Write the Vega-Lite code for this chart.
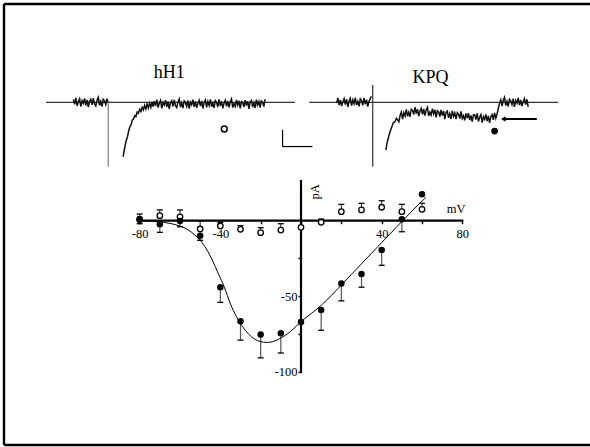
{
  "$schema": "https://vega.github.io/schema/vega-lite/v6.json",
  "width": 586,
  "height": 441,
  "autosize": {"type": "none"},
  "padding": {"left": 4, "top": 4, "right": 0, "bottom": 2},
  "background": "white",
  "view": {"stroke": null},
  "config": {
    "font": "Liberation Serif"
  },
  "datasets": {
    "iv": [
      {"g": "KPQ", "mV": -80, "pA": 0.5, "err": -2},
      {"g": "KPQ", "mV": -70, "pA": -2.4, "err": -7.7},
      {"g": "KPQ", "mV": -60, "pA": -0.2, "err": -4},
      {"g": "KPQ", "mV": -50, "pA": -10, "err": -13},
      {"g": "KPQ", "mV": -40, "pA": -44, "err": -54},
      {"g": "KPQ", "mV": -30, "pA": -66.5, "err": -79},
      {"g": "KPQ", "mV": -20, "pA": -75.3, "err": -90.7},
      {"g": "KPQ", "mV": -10, "pA": -74.4, "err": -87.5},
      {"g": "KPQ", "mV": 0, "pA": -67, "err": null},
      {"g": "KPQ", "mV": 10, "pA": -59, "err": -72.5},
      {"g": "KPQ", "mV": 20, "pA": -41.5, "err": -53},
      {"g": "KPQ", "mV": 30, "pA": -35.3, "err": -44},
      {"g": "KPQ", "mV": 40, "pA": -19.4, "err": -29.5},
      {"g": "KPQ", "mV": 50, "pA": 0.9, "err": -7.3},
      {"g": "KPQ", "mV": 60, "pA": 17.5, "err": null},
      {"g": "hH1", "mV": -80, "pA": 1.1, "err": 4.4},
      {"g": "hH1", "mV": -70, "pA": 3.3, "err": 7.1},
      {"g": "hH1", "mV": -60, "pA": 2.6, "err": 7.1},
      {"g": "hH1", "mV": -50, "pA": -5.5, "err": -0.2},
      {"g": "hH1", "mV": -40, "pA": -3.5, "err": -1.1},
      {"g": "hH1", "mV": -30, "pA": -5.7, "err": -3.3},
      {"g": "hH1", "mV": -20, "pA": -7.9, "err": -4.6},
      {"g": "hH1", "mV": -10, "pA": -6.2, "err": -2},
      {"g": "hH1", "mV": 0, "pA": -4.4, "err": null},
      {"g": "hH1", "mV": 10, "pA": -1.1, "err": 1.1},
      {"g": "hH1", "mV": 20, "pA": 6, "err": 10.8},
      {"g": "hH1", "mV": 30, "pA": 7.1, "err": 11.5},
      {"g": "hH1", "mV": 40, "pA": 8.9, "err": 13.2},
      {"g": "hH1", "mV": 50, "pA": 6, "err": 10.8},
      {"g": "hH1", "mV": 60, "pA": 7.5, "err": 11.5}
    ],
    "fit": [
      {"mV": -80, "pA": 0}, {"mV": -75, "pA": -0.3}, {"mV": -70, "pA": -0.8}, {"mV": -65, "pA": -1.8},
      {"mV": -60, "pA": -3.5}, {"mV": -56, "pA": -6}, {"mV": -53, "pA": -9}, {"mV": -50, "pA": -13},
      {"mV": -47, "pA": -18.5}, {"mV": -44, "pA": -26}, {"mV": -41, "pA": -35}, {"mV": -38, "pA": -44},
      {"mV": -35, "pA": -55}, {"mV": -32, "pA": -63.5}, {"mV": -29, "pA": -70}, {"mV": -26, "pA": -75},
      {"mV": -23, "pA": -78.3}, {"mV": -20, "pA": -80}, {"mV": -17, "pA": -80.5}, {"mV": -14, "pA": -80},
      {"mV": -11, "pA": -78.3}, {"mV": -8, "pA": -76}, {"mV": -5, "pA": -73}, {"mV": -2, "pA": -69.3},
      {"mV": 0, "pA": -66.8}, {"mV": 5, "pA": -61.5}, {"mV": 10, "pA": -56}, {"mV": 15, "pA": -49.5},
      {"mV": 20, "pA": -42.5}, {"mV": 25, "pA": -35.5}, {"mV": 30, "pA": -28.5}, {"mV": 35, "pA": -21.5},
      {"mV": 40, "pA": -14.5}, {"mV": 45, "pA": -7.5}, {"mV": 50, "pA": -0.5}, {"mV": 55, "pA": 6.3},
      {"mV": 60, "pA": 13}, {"mV": 62, "pA": 15.5}
    ],
    "hpre": [
      {"t": 11.0, "v": 0.17}, {"t": 11.5, "v": -0.12}, {"t": 12.0, "v": 0.26}, {"t": 12.5, "v": -0.22},
      {"t": 13.0, "v": 0.04}, {"t": 13.5, "v": 0.21}, {"t": 14.0, "v": -0.26}, {"t": 14.5, "v": 0.10},
      {"t": 15.0, "v": -0.06}, {"t": 15.5, "v": 0.23}, {"t": 16.0, "v": -0.18}, {"t": 16.5, "v": 0.14},
      {"t": 17.0, "v": -0.29}, {"t": 17.5, "v": 0.07}, {"t": 18.0, "v": 0.19}, {"t": 18.5, "v": -0.15},
      {"t": 19.0, "v": 0.25}, {"t": 19.5, "v": -0.10}, {"t": 20.0, "v": -0.22}, {"t": 20.5, "v": 0.12},
      {"t": 21.0, "v": 0.30}, {"t": 21.5, "v": -0.19}, {"t": 22.0, "v": 0.06}, {"t": 22.5, "v": -0.25},
      {"t": 23.0, "v": 0.18}, {"t": 23.5, "v": 0.09}, {"t": 24.0, "v": -0.14}, {"t": 24.5, "v": 0.22},
      {"t": 25.0, "v": -0.05}
    ],
    "hpost": [
      {"t": 31.0, "v": -3.26}, {"t": 31.3, "v": -2.95}, {"t": 31.7, "v": -2.66}, {"t": 32.2, "v": -2.3},
      {"t": 32.7, "v": -2.06}, {"t": 33.2, "v": -1.72}, {"t": 33.7, "v": -1.46}, {"t": 34.2, "v": -1.32},
      {"t": 34.7, "v": -1.05}, {"t": 35.1, "v": -1.02}, {"t": 35.6, "v": -0.8}, {"t": 36.1, "v": -0.86},
      {"t": 36.6, "v": -0.58}, {"t": 37.1, "v": -0.66}, {"t": 37.6, "v": -0.42}, {"t": 38.1, "v": -0.55},
      {"t": 38.6, "v": -0.3}, {"t": 39.1, "v": -0.45}, {"t": 39.6, "v": -0.18}, {"t": 40.1, "v": -0.4},
      {"t": 40.6, "v": -0.1}, {"t": 41.1, "v": -0.34}, {"t": 41.6, "v": -0.05}, {"t": 42.1, "v": -0.3},
      {"t": 42.6, "v": 0.02}, {"t": 43.0, "v": -0.25},
      {"t": 43.5, "v": 0.07}, {"t": 44.0, "v": -0.22}, {"t": 44.5, "v": 0.16}, {"t": 45.0, "v": -0.32},
      {"t": 45.5, "v": -0.06}, {"t": 46.0, "v": 0.11}, {"t": 46.5, "v": -0.36}, {"t": 47.0, "v": 0.0},
      {"t": 47.5, "v": -0.16}, {"t": 48.0, "v": 0.13}, {"t": 48.5, "v": -0.28}, {"t": 49.0, "v": 0.04},
      {"t": 49.5, "v": -0.39}, {"t": 50.0, "v": -0.03}, {"t": 50.5, "v": 0.09}, {"t": 51.0, "v": -0.25},
      {"t": 51.5, "v": 0.15}, {"t": 52.0, "v": -0.2}, {"t": 52.5, "v": -0.32}, {"t": 53.0, "v": 0.02},
      {"t": 53.5, "v": 0.2}, {"t": 54.0, "v": -0.29}, {"t": 54.5, "v": -0.04}, {"t": 55.0, "v": -0.35},
      {"t": 55.5, "v": 0.08}, {"t": 56.0, "v": -0.01}, {"t": 56.5, "v": -0.24}, {"t": 57.0, "v": 0.12},
      {"t": 57.5, "v": -0.38}, {"t": 58.0, "v": 0.01}, {"t": 58.5, "v": -0.15}, {"t": 59.0, "v": 0.16},
      {"t": 59.5, "v": -0.27}, {"t": 60.0, "v": 0.05}, {"t": 60.5, "v": -0.33}, {"t": 61.0, "v": -0.07},
      {"t": 61.5, "v": 0.12}, {"t": 62.0, "v": -0.23}, {"t": 62.5, "v": 0.08}, {"t": 63.0, "v": -0.37},
      {"t": 63.5, "v": -0.02}, {"t": 64.0, "v": 0.14}, {"t": 64.5, "v": -0.3}, {"t": 65.0, "v": 0.04},
      {"t": 65.5, "v": -0.19}, {"t": 66.0, "v": 0.18}, {"t": 66.5, "v": -0.26}, {"t": 67.0, "v": -0.04},
      {"t": 67.5, "v": -0.34}, {"t": 68.0, "v": 0.1}, {"t": 68.5, "v": 0.0}, {"t": 69.0, "v": -0.28},
      {"t": 69.5, "v": 0.17}, {"t": 70.0, "v": -0.21}, {"t": 70.5, "v": 0.06}, {"t": 71.0, "v": -0.36},
      {"t": 71.5, "v": -0.05}, {"t": 72.0, "v": 0.12}, {"t": 72.5, "v": -0.24}, {"t": 73.0, "v": 0.08},
      {"t": 73.5, "v": -0.31}, {"t": 74.0, "v": 0.03}, {"t": 74.5, "v": 0.2}, {"t": 75.0, "v": -0.32},
      {"t": 75.5, "v": -0.08}, {"t": 76.0, "v": -0.25}, {"t": 76.5, "v": 0.14}, {"t": 77.0, "v": -0.17},
      {"t": 77.5, "v": 0.09}, {"t": 78.0, "v": -0.36}, {"t": 78.5, "v": 0.04}, {"t": 79.0, "v": -0.02},
      {"t": 79.5, "v": -0.28}, {"t": 80.0, "v": 0.13}, {"t": 80.5, "v": -0.2}, {"t": 81.0, "v": 0.07},
      {"t": 81.5, "v": -0.4}, {"t": 82.0, "v": 0.02}, {"t": 82.5, "v": 0.11}, {"t": 83.0, "v": -0.29},
      {"t": 83.5, "v": -0.03}, {"t": 84.0, "v": -0.34}, {"t": 84.5, "v": 0.16}, {"t": 85.0, "v": -0.16},
      {"t": 85.5, "v": 0.05}, {"t": 86.0, "v": -0.32}, {"t": 86.5, "v": 0.08}, {"t": 87.0, "v": 0.0},
      {"t": 87.5, "v": -0.26}, {"t": 88.0, "v": 0.19}
    ],
    "kpre": [
      {"t": 11.0, "v": -0.05}, {"t": 11.5, "v": 0.26}, {"t": 12.0, "v": -0.17}, {"t": 12.5, "v": 0.15},
      {"t": 13.0, "v": -0.23}, {"t": 13.5, "v": 0.03}, {"t": 14.0, "v": 0.22}, {"t": 14.5, "v": -0.13},
      {"t": 15.0, "v": 0.18}, {"t": 15.5, "v": -0.27}, {"t": 16.0, "v": 0.08}, {"t": 16.5, "v": 0.24},
      {"t": 17.0, "v": -0.2}, {"t": 17.5, "v": 0.14}, {"t": 18.0, "v": -0.09}, {"t": 18.5, "v": 0.28},
      {"t": 19.0, "v": -0.16}, {"t": 19.5, "v": 0.06}, {"t": 20.0, "v": -0.24}, {"t": 20.5, "v": 0.2},
      {"t": 21.0, "v": 0.1}, {"t": 21.5, "v": -0.18}, {"t": 22.0, "v": 0.27}, {"t": 22.5, "v": -0.11},
      {"t": 23.0, "v": 0.16}, {"t": 23.5, "v": -0.26}, {"t": 24.0, "v": 0.05}, {"t": 24.5, "v": 0.22},
      {"t": 25.0, "v": 0.35}
    ],
    "kpost": [
      {"t": 30.8, "v": -2.86}, {"t": 31.3, "v": -2.4}, {"t": 31.9, "v": -2.06}, {"t": 32.5, "v": -1.75},
      {"t": 33.2, "v": -1.46}, {"t": 33.8, "v": -1.22}, {"t": 34.4, "v": -1.18}, {"t": 35.0, "v": -0.95},
      {"t": 35.5, "v": -1.05},
      {"t": 36.0, "v": -1.17}, {"t": 36.5, "v": -0.79}, {"t": 37.0, "v": -0.59}, {"t": 37.5, "v": -1.0},
      {"t": 38.0, "v": -0.62}, {"t": 38.5, "v": -0.82}, {"t": 39.0, "v": -0.43}, {"t": 39.5, "v": -0.84},
      {"t": 40.0, "v": -0.59}, {"t": 40.5, "v": -0.87}, {"t": 41.0, "v": -0.41}, {"t": 41.5, "v": -0.48},
      {"t": 42.0, "v": -0.74}, {"t": 42.5, "v": -0.29}, {"t": 43.0, "v": -0.68}, {"t": 43.5, "v": -0.41},
      {"t": 44.0, "v": -0.83}, {"t": 44.5, "v": -0.52}, {"t": 45.0, "v": -0.36}, {"t": 45.5, "v": -0.72},
      {"t": 46.0, "v": -0.4}, {"t": 46.5, "v": -0.8}, {"t": 47.0, "v": -0.46}, {"t": 47.5, "v": -0.3},
      {"t": 48.0, "v": -0.82}, {"t": 48.5, "v": -0.59}, {"t": 49.0, "v": -0.76}, {"t": 49.5, "v": -0.38},
      {"t": 50.0, "v": -0.69}, {"t": 50.5, "v": -0.44}, {"t": 51.0, "v": -0.9}, {"t": 51.5, "v": -0.51},
      {"t": 52.0, "v": -0.58}, {"t": 52.5, "v": -0.85}, {"t": 53.0, "v": -0.45}, {"t": 53.5, "v": -0.79},
      {"t": 54.0, "v": -0.53}, {"t": 54.5, "v": -1.01}, {"t": 55.0, "v": -0.6}, {"t": 55.5, "v": -0.52},
      {"t": 56.0, "v": -0.93}, {"t": 56.5, "v": -0.68}, {"t": 57.0, "v": -1.0}, {"t": 57.5, "v": -0.51},
      {"t": 58.0, "v": -0.84}, {"t": 58.5, "v": -0.64}, {"t": 59.0, "v": -1.01}, {"t": 59.5, "v": -0.62},
      {"t": 60.0, "v": -0.71}, {"t": 60.5, "v": -0.98}, {"t": 61.0, "v": -0.54}, {"t": 61.5, "v": -0.97},
      {"t": 62.0, "v": -0.8}, {"t": 62.5, "v": -1.08}, {"t": 63.0, "v": -0.66}, {"t": 63.5, "v": -0.95},
      {"t": 64.0, "v": -0.65}, {"t": 64.5, "v": -1.06}, {"t": 65.0, "v": -0.78}, {"t": 65.5, "v": -1.16},
      {"t": 66.0, "v": -0.74}, {"t": 66.5, "v": -0.74}, {"t": 67.0, "v": -1.04}, {"t": 67.5, "v": -0.66},
      {"t": 68.0, "v": -1.15}, {"t": 68.5, "v": -0.9}, {"t": 69.0, "v": -0.74}, {"t": 69.5, "v": -1.21},
      {"t": 70.0, "v": -0.86}, {"t": 70.5, "v": -1.02}, {"t": 71.0, "v": -0.73}, {"t": 71.5, "v": -1.13},
      {"t": 72.0, "v": -0.81}, {"t": 72.5, "v": -1.23}, {"t": 73.0, "v": -0.86}, {"t": 73.5, "v": -0.73},
      {"t": 74.0, "v": -1.05}, {"t": 74.5, "v": -0.63}, {"t": 75.0, "v": -0.95},
      {"t": 75.5, "v": -0.7}, {"t": 76.0, "v": -0.36}, {"t": 76.5, "v": -0.05}, {"t": 77.0, "v": 0.15},
      {"t": 77.5, "v": -0.22}, {"t": 78.0, "v": 0.12}, {"t": 78.5, "v": 0.3}, {"t": 79.0, "v": -0.19},
      {"t": 79.5, "v": 0.06}, {"t": 80.0, "v": -0.25}, {"t": 80.5, "v": 0.18}, {"t": 81.0, "v": 0.09},
      {"t": 81.5, "v": -0.14}, {"t": 82.0, "v": 0.22}, {"t": 82.5, "v": -0.28}, {"t": 83.0, "v": 0.11},
      {"t": 83.5, "v": -0.05}, {"t": 84.0, "v": 0.26}, {"t": 84.5, "v": -0.17}, {"t": 85.0, "v": 0.15},
      {"t": 85.5, "v": -0.23}, {"t": 86.0, "v": 0.03}, {"t": 86.5, "v": 0.22}, {"t": 87.0, "v": -0.13},
      {"t": 87.5, "v": 0.18}, {"t": 88.0, "v": -0.27}
    ]
  },
  "layer": [
    {
      "data": {"values": [
        {"mV": -81, "mV2": 80.5, "pA": 0, "pA2": 0},
        {"mV": 0, "mV2": 0, "pA": -100.5, "pA2": 27}
      ]},
      "mark": {"type": "rule", "color": "black", "strokeWidth": 2.2},
      "encoding": {
        "x": {"field": "mV", "type": "quantitative",
          "scale": {"domain": [-147.25, 143.28], "nice": false, "zero": false},
          "axis": {"title": null, "orient": "bottom", "offset": -224.3, "domain": false, "grid": false,
            "values": [-80, -60, -40, -20, 0, 20, 40, 60, 80], "tickSize": 3, "tickWidth": 1.5, "tickColor": "black",
            "labelFont": "Liberation Serif", "labelFontSize": 12.5, "labelColor": "black", "labelPadding": 4,
            "labelFlush": false, "labelOverlap": false,
            "labelExpr": "datum.value == -80 ? '-80' : datum.value == -40 ? '-40' : datum.value == 40 ? '40' : datum.value == 80 ? '80' : ''"}},
        "x2": {"field": "mV2"},
        "y": {"field": "pA", "type": "quantitative",
          "scale": {"domain": [-148.35, 143.32], "nice": false, "zero": false},
          "axis": {"title": null, "orient": "left", "offset": -297, "domain": false, "grid": false,
            "values": [-100, -75, -50, -25], "tickSize": 3, "tickWidth": 1.5, "tickColor": "black",
            "labelFont": "Liberation Serif", "labelFontSize": 12.5, "labelColor": "black", "labelPadding": 1,
            "labelFlush": false, "labelOverlap": false,
            "labelExpr": "datum.value == -50 ? '-50' : datum.value == -100 ? '-100' : ''"}},
        "y2": {"field": "pA2"}
      }
    },
    {
      "data": {"values": [
        {"mV": -147.25, "mV2": -147.25, "pA": -148.35, "pA2": 143.32},
        {"mV": -147.25, "mV2": 143.28, "pA": 143.32, "pA2": 143.32},
        {"mV": -147.25, "mV2": 143.28, "pA": -148.35, "pA2": -148.35}
      ]},
      "mark": {"type": "rule", "color": "black", "strokeWidth": 2.4},
      "encoding": {
        "x": {"field": "mV", "type": "quantitative", "scale": {"domain": [-147.25, 143.28], "nice": false, "zero": false}, "axis": null},
        "x2": {"field": "mV2"},
        "y": {"field": "pA", "type": "quantitative", "scale": {"domain": [-148.35, 143.32], "nice": false, "zero": false}, "axis": null},
        "y2": {"field": "pA2"}
      }
    },
    {
      "data": {"name": "iv"},
      "transform": [{"filter": "datum.err != null && datum.g == 'KPQ'"}],
      "mark": {"type": "rule", "color": "#555", "strokeWidth": 1.2},
      "encoding": {
        "x": {"field": "mV", "type": "quantitative", "scale": {"domain": [-147.25, 143.28], "nice": false, "zero": false}, "axis": null},
        "y": {"field": "pA", "type": "quantitative", "scale": {"domain": [-148.35, 143.32], "nice": false, "zero": false}, "axis": null},
        "y2": {"field": "err"}
      }
    },
    {
      "data": {"name": "iv"},
      "transform": [{"filter": "datum.err != null && datum.g == 'hH1'"}],
      "mark": {"type": "rule", "color": "#222", "strokeWidth": 1},
      "encoding": {
        "x": {"field": "mV", "type": "quantitative", "scale": {"domain": [-147.25, 143.28], "nice": false, "zero": false}, "axis": null},
        "y": {"field": "pA", "type": "quantitative", "scale": {"domain": [-148.35, 143.32], "nice": false, "zero": false}, "axis": null},
        "y2": {"field": "err"}
      }
    },
    {
      "data": {"name": "iv"},
      "transform": [{"filter": "datum.err != null"}],
      "mark": {"type": "point", "shape": "M-1,0L1,0", "filled": false, "stroke": "black", "strokeWidth": 1.3, "size": 36, "opacity": 1},
      "encoding": {
        "x": {"field": "mV", "type": "quantitative", "scale": {"domain": [-147.25, 143.28], "nice": false, "zero": false}, "axis": null},
        "y": {"field": "err", "type": "quantitative", "scale": {"domain": [-148.35, 143.32], "nice": false, "zero": false}, "axis": null}
      }
    },
    {
      "data": {"name": "fit"},
      "mark": {"type": "line", "color": "black", "strokeWidth": 1, "interpolate": "monotone"},
      "encoding": {
        "x": {"field": "mV", "type": "quantitative", "scale": {"domain": [-147.25, 143.28], "nice": false, "zero": false}, "axis": null},
        "y": {"field": "pA", "type": "quantitative", "scale": {"domain": [-148.35, 143.32], "nice": false, "zero": false}, "axis": null}
      }
    },
    {
      "data": {"name": "iv"},
      "transform": [{"filter": "datum.g == 'hH1'"}],
      "mark": {"type": "point", "shape": "circle", "filled": true, "fill": "white", "stroke": "black", "strokeWidth": 1.3, "size": 30, "opacity": 1},
      "encoding": {
        "x": {"field": "mV", "type": "quantitative", "scale": {"domain": [-147.25, 143.28], "nice": false, "zero": false}, "axis": null},
        "y": {"field": "pA", "type": "quantitative", "scale": {"domain": [-148.35, 143.32], "nice": false, "zero": false}, "axis": null}
      }
    },
    {
      "data": {"name": "iv"},
      "transform": [{"filter": "datum.g == 'KPQ'"}],
      "mark": {"type": "point", "shape": "circle", "filled": true, "color": "black", "size": 42, "opacity": 1},
      "encoding": {
        "x": {"field": "mV", "type": "quantitative", "scale": {"domain": [-147.25, 143.28], "nice": false, "zero": false}, "axis": null},
        "y": {"field": "pA", "type": "quantitative", "scale": {"domain": [-148.35, 143.32], "nice": false, "zero": false}, "axis": null}
      }
    },
    {
      "data": {"values": [{"mV": 6.7, "pA": 19, "label": "pA"}]},
      "mark": {"type": "text", "angle": 270, "font": "Liberation Serif", "fontSize": 12.5, "color": "black", "align": "center", "baseline": "middle"},
      "encoding": {
        "x": {"field": "mV", "type": "quantitative", "scale": {"domain": [-147.25, 143.28], "nice": false, "zero": false}, "axis": null},
        "y": {"field": "pA", "type": "quantitative", "scale": {"domain": [-148.35, 143.32], "nice": false, "zero": false}, "axis": null},
        "text": {"field": "label"}
      }
    },
    {
      "data": {"values": [{"mV": 76.9, "pA": 7.7, "label": "mV"}]},
      "mark": {"type": "text", "font": "Liberation Serif", "fontSize": 12.5, "color": "black", "align": "center", "baseline": "middle"},
      "encoding": {
        "x": {"field": "mV", "type": "quantitative", "scale": {"domain": [-147.25, 143.28], "nice": false, "zero": false}, "axis": null},
        "y": {"field": "pA", "type": "quantitative", "scale": {"domain": [-148.35, 143.32], "nice": false, "zero": false}, "axis": null},
        "text": {"field": "label"}
      }
    },
    {
      "layer": [
        {
          "data": {"values": [{"t": 0, "t2": 100, "v": 0}]},
          "mark": {"type": "rule", "color": "black", "strokeWidth": 1},
          "encoding": {
            "x": {"field": "t", "type": "quantitative", "scale": {"domain": [-16.87, 218.47], "nice": false, "zero": false}, "axis": null},
            "x2": {"field": "t2"},
            "y": {"field": "v", "type": "quantitative", "scale": {"domain": [-20.52, 5.886], "nice": false, "zero": false}, "axis": null}
          }
        },
        {
          "data": {"name": "hpre"},
          "mark": {"type": "line", "color": "#111", "strokeWidth": 1.5},
          "encoding": {
            "x": {"field": "t", "type": "quantitative", "scale": {"domain": [-16.87, 218.47], "nice": false, "zero": false}, "axis": null},
            "y": {"field": "v", "type": "quantitative", "scale": {"domain": [-20.52, 5.886], "nice": false, "zero": false}, "axis": null}
          }
        },
        {
          "data": {"name": "hpost"},
          "mark": {"type": "line", "color": "#111", "strokeWidth": 1.5},
          "encoding": {
            "x": {"field": "t", "type": "quantitative", "scale": {"domain": [-16.87, 218.47], "nice": false, "zero": false}, "axis": null},
            "y": {"field": "v", "type": "quantitative", "scale": {"domain": [-20.52, 5.886], "nice": false, "zero": false}, "axis": null}
          }
        },
        {
          "data": {"values": [{"t": 25, "v": 0, "v2": -3.86}]},
          "mark": {"type": "rule", "color": "#888", "strokeWidth": 1.3},
          "encoding": {
            "x": {"field": "t", "type": "quantitative", "scale": {"domain": [-16.87, 218.47], "nice": false, "zero": false}, "axis": null},
            "y": {"field": "v", "type": "quantitative", "scale": {"domain": [-20.52, 5.886], "nice": false, "zero": false}, "axis": null},
            "y2": {"field": "v2"}
          }
        },
        {
          "data": {"values": [{"t": 71.6, "v": -1.6}]},
          "mark": {"type": "point", "shape": "circle", "filled": false, "stroke": "black", "strokeWidth": 1.5, "size": 34, "opacity": 1},
          "encoding": {
            "x": {"field": "t", "type": "quantitative", "scale": {"domain": [-16.87, 218.47], "nice": false, "zero": false}, "axis": null},
            "y": {"field": "v", "type": "quantitative", "scale": {"domain": [-20.52, 5.886], "nice": false, "zero": false}, "axis": null}
          }
        },
        {
          "data": {"values": [
            {"t": 95, "t2": 95, "v": -1.65, "v2": -2.65},
            {"t": 95, "t2": 107, "v": -2.65, "v2": -2.65}
          ]},
          "mark": {"type": "rule", "color": "black", "strokeWidth": 1.2},
          "encoding": {
            "x": {"field": "t", "type": "quantitative", "scale": {"domain": [-16.87, 218.47], "nice": false, "zero": false}, "axis": null},
            "x2": {"field": "t2"},
            "y": {"field": "v", "type": "quantitative", "scale": {"domain": [-20.52, 5.886], "nice": false, "zero": false}, "axis": null},
            "y2": {"field": "v2"}
          }
        },
        {
          "data": {"values": [{"t": 49.5, "v": 1.44, "label": "hH1"}]},
          "mark": {"type": "text", "font": "Liberation Serif", "fontSize": 18, "color": "black", "align": "center", "baseline": "alphabetic"},
          "encoding": {
            "x": {"field": "t", "type": "quantitative", "scale": {"domain": [-16.87, 218.47], "nice": false, "zero": false}, "axis": null},
            "y": {"field": "v", "type": "quantitative", "scale": {"domain": [-20.52, 5.886], "nice": false, "zero": false}, "axis": null},
            "text": {"field": "label"}
          }
        }
      ]
    },
    {
      "layer": [
        {
          "data": {"values": [{"t": 0, "t2": 100, "v": 0}]},
          "mark": {"type": "rule", "color": "black", "strokeWidth": 1},
          "encoding": {
            "x": {"field": "t", "type": "quantitative", "scale": {"domain": [-122.76, 112.87], "nice": false, "zero": false}, "axis": null},
            "x2": {"field": "t2"},
            "y": {"field": "v", "type": "quantitative", "scale": {"domain": [-20.52, 5.886], "nice": false, "zero": false}, "axis": null}
          }
        },
        {
          "data": {"name": "kpre"},
          "mark": {"type": "line", "color": "#111", "strokeWidth": 1.5},
          "encoding": {
            "x": {"field": "t", "type": "quantitative", "scale": {"domain": [-122.76, 112.87], "nice": false, "zero": false}, "axis": null},
            "y": {"field": "v", "type": "quantitative", "scale": {"domain": [-20.52, 5.886], "nice": false, "zero": false}, "axis": null}
          }
        },
        {
          "data": {"name": "kpost"},
          "mark": {"type": "line", "color": "#111", "strokeWidth": 1.5},
          "encoding": {
            "x": {"field": "t", "type": "quantitative", "scale": {"domain": [-122.76, 112.87], "nice": false, "zero": false}, "axis": null},
            "y": {"field": "v", "type": "quantitative", "scale": {"domain": [-20.52, 5.886], "nice": false, "zero": false}, "axis": null}
          }
        },
        {
          "data": {"values": [{"t": 25.5, "v": 1.04, "v2": -3.86}]},
          "mark": {"type": "rule", "color": "#444", "strokeWidth": 1.3},
          "encoding": {
            "x": {"field": "t", "type": "quantitative", "scale": {"domain": [-122.76, 112.87], "nice": false, "zero": false}, "axis": null},
            "y": {"field": "v", "type": "quantitative", "scale": {"domain": [-20.52, 5.886], "nice": false, "zero": false}, "axis": null},
            "y2": {"field": "v2"}
          }
        },
        {
          "data": {"values": [{"t": 74.5, "v": -1.72}]},
          "mark": {"type": "point", "shape": "circle", "filled": true, "color": "black", "size": 45, "opacity": 1},
          "encoding": {
            "x": {"field": "t", "type": "quantitative", "scale": {"domain": [-122.76, 112.87], "nice": false, "zero": false}, "axis": null},
            "y": {"field": "v", "type": "quantitative", "scale": {"domain": [-20.52, 5.886], "nice": false, "zero": false}, "axis": null}
          }
        },
        {
          "data": {"values": [{"t": 78.6, "t2": 91.5, "v": -1.0}]},
          "mark": {"type": "rule", "color": "black", "strokeWidth": 2},
          "encoding": {
            "x": {"field": "t", "type": "quantitative", "scale": {"domain": [-122.76, 112.87], "nice": false, "zero": false}, "axis": null},
            "x2": {"field": "t2"},
            "y": {"field": "v", "type": "quantitative", "scale": {"domain": [-20.52, 5.886], "nice": false, "zero": false}, "axis": null}
          }
        },
        {
          "data": {"values": [{"t": 78.0, "v": -1.0}]},
          "mark": {"type": "point", "shape": "triangle-left", "filled": true, "color": "black", "size": 28, "opacity": 1},
          "encoding": {
            "x": {"field": "t", "type": "quantitative", "scale": {"domain": [-122.76, 112.87], "nice": false, "zero": false}, "axis": null},
            "y": {"field": "v", "type": "quantitative", "scale": {"domain": [-20.52, 5.886], "nice": false, "zero": false}, "axis": null}
          }
        },
        {
          "data": {"values": [{"t": 48.7, "v": 1.17, "label": "KPQ"}]},
          "mark": {"type": "text", "font": "Liberation Serif", "fontSize": 18, "color": "black", "align": "center", "baseline": "alphabetic"},
          "encoding": {
            "x": {"field": "t", "type": "quantitative", "scale": {"domain": [-122.76, 112.87], "nice": false, "zero": false}, "axis": null},
            "y": {"field": "v", "type": "quantitative", "scale": {"domain": [-20.52, 5.886], "nice": false, "zero": false}, "axis": null},
            "text": {"field": "label"}
          }
        }
      ]
    }
  ],
  "resolve": {"scale": {"x": "independent", "y": "independent"}}
}
